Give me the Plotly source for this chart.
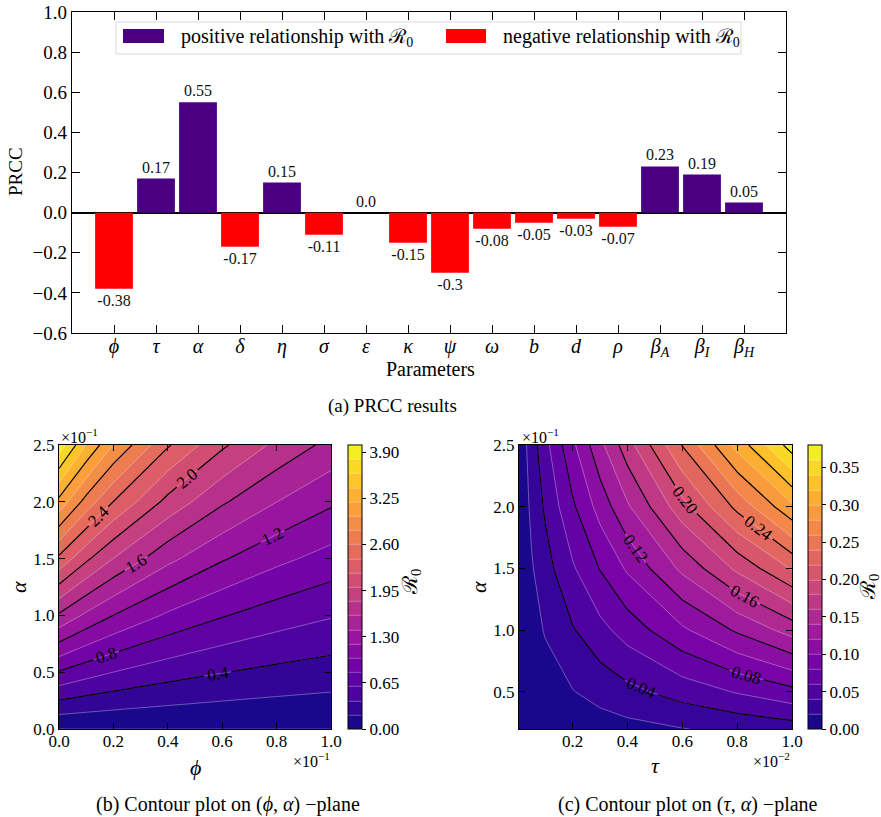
import plotly.graph_objects as go

W, H = 881, 817
def px(x): return x / W
def py(y): return 1 - y / H

FONT = "'Liberation Serif', 'Times New Roman', 'DejaVu Serif', serif"

# ---------------- data: PRCC bar chart ----------------
params = ["<i>ϕ</i>", "<i>τ</i>", "<i>α</i>", "<i>δ</i>", "<i>η</i>", "<i>σ</i>", "<i>ε</i>",
          "<i>κ</i>", "<i>ψ</i>", "<i>ω</i>", "<i>b</i>", "<i>d</i>", "<i>ρ</i>",
          "<i>β</i><sub><i>A</i></sub>", "<i>β</i><sub><i>I</i></sub>", "<i>β</i><sub><i>H</i></sub>"]
prcc = [-0.38, 0.17, 0.55, -0.17, 0.15, -0.11, 0.0, -0.15, -0.3, -0.08, -0.05, -0.03, -0.07,
        0.23, 0.19, 0.05]
bar_ticks = [1.0, 0.8, 0.6, 0.4, 0.2, 0.0, -0.2, -0.4, -0.6]

# ---------------- data: contour (phi, alpha) ----------------
phi = [0.0, 0.1, 0.2, 0.4, 0.6, 0.8, 1.0]          # x 10^-1
alpha_b = [0.0, 0.5, 1.0, 1.5, 2.0, 2.5]           # x 10^-1
R0_b = [
    [0.000, 0.000, 0.000, 0.000, 0.000, 0.000, 0.000],
    [0.785, 0.680, 0.599, 0.485, 0.407, 0.350, 0.308],
    [1.570, 1.359, 1.199, 0.969, 0.814, 0.701, 0.616],
    [2.355, 2.039, 1.798, 1.454, 1.220, 1.051, 0.924],
    [3.140, 2.719, 2.397, 1.938, 1.627, 1.402, 1.231],
    [3.925, 3.398, 2.996, 2.423, 2.034, 1.752, 1.539],
]
cb_ticks_b = [0.0, 0.65, 1.30, 1.95, 2.60, 3.25, 3.90]

# ---------------- data: contour (tau, alpha) ----------------
tau = [0.005, 0.05, 0.1, 0.2, 0.3, 0.4, 0.6, 0.8, 1.0]   # x 10^-2
alpha_c = [0.2, 0.5, 1.0, 1.5, 2.0, 2.5]                  # x 10^-1
R0_c = [
    [0.0003, 0.0024, 0.0043, 0.0077, 0.0108, 0.0137, 0.0193, 0.0245, 0.0296],
    [0.0009, 0.0060, 0.0107, 0.0191, 0.0269, 0.0343, 0.0482, 0.0614, 0.0740],
    [0.0017, 0.0120, 0.0214, 0.0383, 0.0538, 0.0685, 0.0964, 0.1227, 0.1480],
    [0.0026, 0.0179, 0.0321, 0.0574, 0.0808, 0.1028, 0.1445, 0.1841, 0.2220],
    [0.0035, 0.0239, 0.0428, 0.0766, 0.1077, 0.1371, 0.1927, 0.2454, 0.2960],
    [0.0043, 0.0299, 0.0535, 0.0957, 0.1346, 0.1713, 0.2409, 0.3068, 0.3700],
]
cb_ticks_c = [0.0, 0.05, 0.10, 0.15, 0.20, 0.25, 0.30, 0.35]

POS_COLOR = "#4b0082"
NEG_COLOR = "#ff0000"

fig = go.Figure()

# bars
idx = list(range(len(params)))
pos_i = [i for i in idx if prcc[i] >= 0]
neg_i = [i for i in idx if prcc[i] < 0]
for sel, col, name in [(pos_i, POS_COLOR, "positive relationship with ℛ<sub>0</sub>"),
                       (neg_i, NEG_COLOR, "negative relationship with ℛ<sub>0</sub>")]:
    fig.add_trace(go.Bar(
        x=[i for i in sel], y=[prcc[i] for i in sel], width=0.9,
        marker=dict(color=col, line=dict(width=0)), name=name,
        text=[str(prcc[i]) for i in sel], textposition="outside",
        textfont=dict(family=FONT, size=16, color="#111"), cliponaxis=False,
        xaxis="x", yaxis="y", showlegend=False))

def cbar(x0, ticks):
    return dict(x=px(x0), xanchor="left", y=py(587), yanchor="middle",
                len=284 / H, lenmode="fraction", thickness=14, xpad=0, ypad=0,
                outlinecolor="black", outlinewidth=1,
                tickvals=ticks, tickformat=".2f", ticks="outside", ticklen=4,
                tickcolor="black", tickfont=dict(family=FONT, size=17, color="black"))

# left contour: filled
fig.add_trace(go.Contour(
    x=phi, y=alpha_b, z=R0_b, xaxis="x2", yaxis="y2",
    colorscale="Plasma", zmin=0, zmax=4.0, zauto=False, autocontour=False,
    contours=dict(start=0, end=4.0, size=0.2, coloring="fill"),
    line=dict(color="rgba(255,255,255,0.55)", width=0.6, smoothing=0),
    colorbar=cbar(348, cb_ticks_b), hoverinfo="skip"))
# left contour: black lines
fig.add_trace(go.Contour(
    x=phi, y=alpha_b, z=R0_b, xaxis="x2", yaxis="y2",
    colorscale=[[0, "black"], [1, "black"]], showscale=False, autocontour=False,
    contours=dict(start=0.4, end=3.6, size=0.4, coloring="lines", showlabels=True,
                  labelfont=dict(family=FONT, size=17, color="black"), labelformat=".1f"),
    line=dict(width=1.2, smoothing=0), hoverinfo="skip"))

# right contour: filled
fig.add_trace(go.Contour(
    x=tau, y=alpha_c, z=R0_c, xaxis="x3", yaxis="y3",
    colorscale="Plasma", zmin=0, zmax=0.38, zauto=False, autocontour=False,
    contours=dict(start=0, end=0.38, size=0.02, coloring="fill"),
    line=dict(color="rgba(255,255,255,0.55)", width=0.6, smoothing=0),
    colorbar=cbar(808, cb_ticks_c), hoverinfo="skip"))
# right contour: black lines
fig.add_trace(go.Contour(
    x=tau, y=alpha_c, z=R0_c, xaxis="x3", yaxis="y3",
    colorscale=[[0, "black"], [1, "black"]], showscale=False, autocontour=False,
    contours=dict(start=0.04, end=0.36, size=0.04, coloring="lines", showlabels=True,
                  labelfont=dict(family=FONT, size=17, color="black"), labelformat=".2f"),
    line=dict(width=1.2, smoothing=0), hoverinfo="skip"))

axis_common = dict(showline=True, mirror="allticks", linecolor="black", linewidth=1.3,
                   ticks="inside", tickcolor="black", showgrid=False, zeroline=False,
                   automargin=False)

fig.update_layout(
    width=W, height=H, margin=dict(l=0, r=0, t=0, b=0, autoexpand=False),
    paper_bgcolor="white", plot_bgcolor="white", barmode="relative",
    font=dict(family=FONT, color="black"),
    xaxis=dict(domain=[px(72), px(786)], range=[-1, 16], tickvals=idx, ticktext=params,
               ticklen=8, ticklabelstandoff=-5, tickfont=dict(family=FONT, size=20),
               **axis_common),
    yaxis=dict(domain=[py(333), py(12)], range=[-0.6, 1.0], tickvals=bar_ticks,
               tickformat=".1f", ticklen=8, tickfont=dict(family=FONT, size=19),
               **{k: v for k, v in axis_common.items() if k != "zeroline"},
               zeroline=True, zerolinecolor="black", zerolinewidth=1.5),
    xaxis2=dict(domain=[px(59), px(331)], range=[0, 1.0], anchor="y2",
                tickvals=[0, 0.2, 0.4, 0.6, 0.8, 1.0], tickformat=".1f", ticklen=6,
                ticklabelstandoff=-4, tickfont=dict(family=FONT, size=17), **axis_common),
    yaxis2=dict(domain=[py(729), py(445)], range=[0, 2.5], anchor="x2",
                tickvals=[0, 0.5, 1.0, 1.5, 2.0, 2.5], tickformat=".1f", ticklen=6,
                tickfont=dict(family=FONT, size=17), **axis_common),
    xaxis3=dict(domain=[px(519), px(792)], range=[0.005, 1.0], anchor="y3",
                tickvals=[0.2, 0.4, 0.6, 0.8, 1.0], tickformat=".1f", ticklen=6,
                ticklabelstandoff=-4, tickfont=dict(family=FONT, size=17), **axis_common),
    yaxis3=dict(domain=[py(729), py(445)], range=[0.2, 2.5], anchor="x3",
                tickvals=[0.5, 1.0, 1.5, 2.0, 2.5], tickformat=".1f", ticklen=6,
                tickfont=dict(family=FONT, size=17), **axis_common),
)

# manual legend
shapes = [
    dict(type="rect", xref="paper", yref="paper", x0=px(116), x1=px(741), y0=py(54), y1=py(22),
         line=dict(color="#d9d9d9", width=1), fillcolor="rgba(255,255,255,0.8)", layer="above"),
    dict(type="rect", xref="paper", yref="paper", x0=px(123), x1=px(164), y0=py(43), y1=py(29),
         line=dict(width=0), fillcolor=POS_COLOR, layer="above"),
    dict(type="rect", xref="paper", yref="paper", x0=px(446), x1=px(486), y0=py(43), y1=py(29),
         line=dict(width=0), fillcolor=NEG_COLOR, layer="above"),
]
fig.update_layout(shapes=shapes)

def ann(text, x, y, size, xanchor="center", yanchor="middle", angle=0):
    fig.add_annotation(text=text, x=px(x), y=py(y), xref="paper", yref="paper",
                       showarrow=False, xanchor=xanchor, yanchor=yanchor, textangle=angle,
                       font=dict(family=FONT, size=size, color="black"))

ann("positive relationship with ℛ<sub>0</sub>", 179, 38, 20, xanchor="left")
ann("negative relationship with ℛ<sub>0</sub>", 501, 38, 20, xanchor="left")
ann("PRCC", 15, 172, 19, angle=-90)
ann("Parameters", 430, 369, 20)
ann("(a) PRCC results", 392, 406, 19)
ann("<i>α</i>", 18, 587, 22, angle=-90)
ann("<i>ϕ</i>", 195, 767, 22)
ann("<i>α</i>", 478, 587, 22, angle=-90)
ann("<i>τ</i>", 655, 765, 22)
ann("ℛ<sub>0</sub>", 411, 582, 21, angle=-90)
ann("ℛ<sub>0</sub>", 869, 587, 21, angle=-90)
ann("×10<sup>−1</sup>", 59, 436, 16, xanchor="left")
ann("×10<sup>−1</sup>", 332, 760, 16, xanchor="right")
ann("×10<sup>−1</sup>", 520, 436, 16, xanchor="left")
ann("×10<sup>−2</sup>", 792, 760, 16, xanchor="right")
ann("(b) Contour plot on (<i>ϕ</i>, <i>α</i>) −plane", 228, 804, 20)
ann("(c) Contour plot on (<i>τ</i>, <i>α</i>) −plane", 688, 804, 20)

fig.write_html("out.html")
